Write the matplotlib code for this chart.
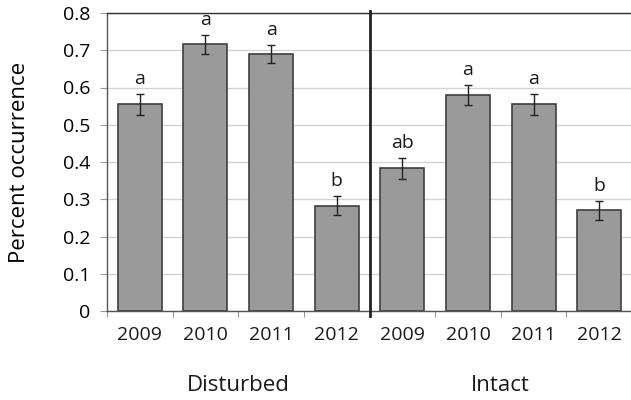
import numpy as np
import matplotlib
matplotlib.use("Agg")
import matplotlib.pyplot as plt
import matplotlib.transforms as mtransforms

plt.rcParams["font.family"] = ["Open Sans", "DejaVu Sans"]

# -- data ---------------------------------------------------------------------
groups = ["Disturbed", "Intact"]
years = ["2009", "2010", "2011", "2012"]
disturbed_mean = [0.555, 0.716, 0.690, 0.283]
disturbed_err = [0.028, 0.025, 0.025, 0.025]
intact_mean = [0.383, 0.581, 0.555, 0.270]
intact_err = [0.029, 0.027, 0.028, 0.025]
letters = ["a", "a", "a", "b", "ab", "a", "a", "b"]
y_ticks = [0, 0.1, 0.2, 0.3, 0.4, 0.5, 0.6, 0.7, 0.8]

means = disturbed_mean + intact_mean
errs = disturbed_err + intact_err
x = np.arange(len(means))

fig = plt.figure(figsize=(6.31, 4.0), dpi=100)
ax = fig.add_axes([0.1696, 0.2225, 0.832, 0.745])

ax.bar(x, means, width=0.67, color="#9a9a9a", edgecolor="#3f3f3f",
       linewidth=1.2, zorder=3)
ax.errorbar(x, means, yerr=errs, fmt="none", ecolor="#222222",
            elinewidth=1.0, capsize=3, capthick=1.0, zorder=4)

# significance letters just above the error bars
for xi, m, e, s in zip(x, means, errs, letters):
    ax.text(xi, m + e + 0.04, s, ha="center", va="center", fontsize=14,
            color="#1a1a1a")

ax.set_xlim(-0.5, len(means) - 0.5)
ax.set_ylim(0, 0.8)
ax.set_yticks(y_ticks)
ax.set_yticklabels([f"{t:g}" for t in y_ticks], fontsize=14)
ax.yaxis.grid(True, color="#d4d4d4", linewidth=1.0, zorder=0)
ax.set_axisbelow(True)

# category ticks sit on the boundaries, year labels under the bars
ax.set_xticks(np.arange(len(means) + 1) - 0.5)
ax.set_xticklabels([])
ax.tick_params(axis="x", length=4, color="#999999", direction="out")
ax.tick_params(axis="y", length=5, color="#999999", direction="out", pad=7)
trans = mtransforms.blended_transform_factory(ax.transData, ax.transAxes)
for xi, yr in zip(x, years * 2):
    ax.text(xi, -0.082, yr, transform=trans, ha="center", va="center",
            fontsize=14, color="#1a1a1a")
for gi, g in enumerate(groups):
    ax.text(gi * 4 + 1.5, -0.25, g, transform=trans, ha="center",
            va="center", fontsize=16, color="#1a1a1a")

ax.set_ylabel("Percent occurrence", fontsize=16, labelpad=24)

for side in ["left", "bottom", "top"]:
    ax.spines[side].set_color("#555555")
    ax.spines[side].set_linewidth(1.0)
ax.spines["right"].set_visible(False)
ax.spines["top"].set_color("#333333")

# divider between the two habitat groups
ax.plot([3.5, 3.5], [-0.017, 1.007], transform=trans, color="#222222",
        linewidth=2.0, clip_on=False, zorder=5)

fig.savefig("out.png", dpi=100)
